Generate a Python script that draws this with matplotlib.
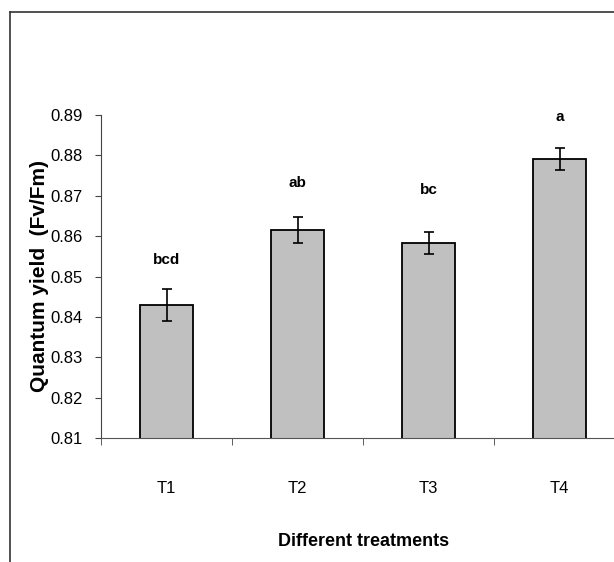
import matplotlib
matplotlib.use('Agg')
import matplotlib.pyplot as plt
from matplotlib.lines import Line2D
import numpy as np

treatments = ['T1', 'T2', 'T3', 'T4']
yield_mean = [0.8430, 0.8615, 0.8583, 0.8791]
yield_err = [0.0040, 0.0032, 0.0027, 0.0027]
letters = ['bcd', 'ab', 'bc', 'a']
letter_y = [0.8540, 0.8731, 0.8714, 0.8894]

plt.rcParams['font.family'] = ['Liberation Sans', 'DejaVu Sans']

fig = plt.figure(figsize=(6.14, 5.62), dpi=100)
ax = fig.add_axes([101/614, 124/562, 524/614, 323/562])

x = np.arange(len(treatments))
ax.bar(x, yield_mean, width=0.4, color='#C0C0C0', edgecolor='black', linewidth=1.3, zorder=2)
ax.errorbar(x, yield_mean, yerr=yield_err, fmt='none', ecolor='black',
            elinewidth=1.2, capsize=3.6, capthick=1.2, zorder=3)
for xi, lab, ly in zip(x, letters, letter_y):
    ax.text(xi, ly, lab, ha='center', va='center', fontsize=11, fontweight='bold')

ticks = np.arange(0.81, 0.8901, 0.01)
ax.set_ylim(0.81, 0.89)
ax.set_yticks(ticks)
ax.set_yticklabels(['%.2f' % v for v in ticks])
ax.set_xlim(-0.5, 3.5)
ax.set_xticks(x)
ax.set_xticklabels(treatments)
ax.set_xticks(np.arange(-0.5, 4, 1.0), minor=True)
ax.tick_params(axis='x', which='major', length=0, pad=31, labelsize=12)
ax.tick_params(axis='x', which='minor', length=5, direction='out', color='#444444')
ax.tick_params(axis='y', length=4, direction='out', labelsize=12, color='#444444', pad=9)

for s in ['top', 'right']:
    ax.spines[s].set_visible(False)
ax.spines['left'].set_color('#444444')
ax.spines['bottom'].set_color('#555555')

ax.set_ylabel('Quantum yield  (Fv/Fm)', fontsize=15, fontweight='bold', labelpad=1)
fig.text(364/614, 1 - 541/562, 'Different treatments', ha='center', va='center',
         fontsize=13, fontweight='bold')

# outer chart frame (top and left edges visible)
fig.add_artist(Line2D([10/614, 1.0], [1 - 12/562, 1 - 12/562], color='#333333', lw=1.2))
fig.add_artist(Line2D([10/614, 10/614], [0.0, 1 - 12/562], color='#333333', lw=1.2))

fig.savefig('out.png', dpi=100)
